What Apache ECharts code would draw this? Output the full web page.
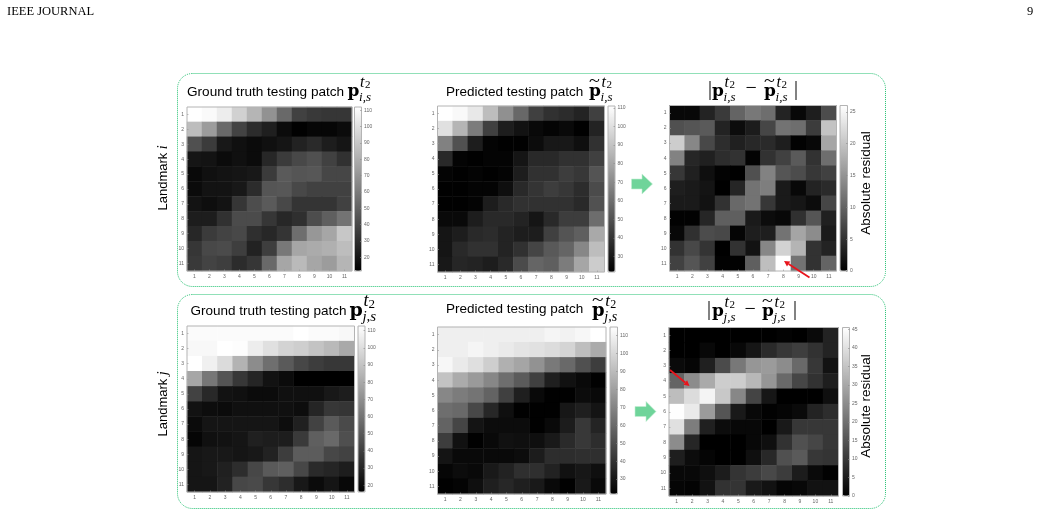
<!DOCTYPE html>
<html>
<head>
<meta charset="utf-8">
<title>Landmark patch prediction residuals</title>
<style>html,body{margin:0;padding:0;background:#fff}#chart{width:1041px;height:515px}</style>
<script src="https://cdn.jsdelivr.net/npm/echarts@6/dist/echarts.min.js"></script>
</head>
<body>
<div id="chart"></div>
<script>
// Patch indices along both axes
const patchTicks = ['1','2','3','4','5','6','7','8','9','10','11'];

// Landmark i: ground truth patch intensities
const truthI = [
[112,110,105,94,83,69,53,37,34,33,33],
[86,73,53,38,29,24,16,12,14,14,16],
[43,35,21,18,16,18,20,25,28,23,20],
[20,19,16,18,16,27,35,40,43,37,31],
[15,18,19,20,21,35,47,45,46,39,39],
[16,19,19,21,29,45,46,40,37,37,37],
[19,17,19,33,42,47,40,32,32,32,37],
[23,23,31,41,41,33,27,30,42,49,57],
[27,35,38,40,30,27,32,55,71,77,90],
[33,40,41,36,25,36,59,77,79,81,86],
[34,38,36,29,33,53,77,85,77,73,83]];

// Landmark i: predicted patch intensities
const predI = [
[111,109,103,88,72,58,44,39,37,34,44],
[100,85,65,44,32,28,25,23,25,22,34],
[67,50,32,23,22,22,26,30,30,27,39],
[36,23,22,23,23,29,36,36,39,39,44],
[23,22,23,22,23,32,39,39,43,41,51],
[22,22,23,23,27,36,40,43,41,37,48],
[22,22,23,32,36,39,39,39,39,36,50],
[25,25,32,36,36,34,29,36,43,43,60],
[29,32,36,37,34,32,32,44,51,55,81],
[29,36,39,39,34,39,46,53,57,69,88],
[30,35,34,32,36,48,57,55,65,80,93]];

// Landmark i: absolute residual
const residualI = [
[.8,.8,3.6,5.9,10.2,12.2,11.2,3.6,.8,3.1,7.7],
[8.2,8.7,9.2,3.6,1.2,2.9,7.1,11.7,11.2,6.1,19.9],
[20.9,13.8,7.3,4.6,3.3,4.1,4.3,3.1,.2,.8,16.8],
[13.3,3.9,3.3,4.6,5.1,.3,5.1,6.6,9.2,5.1,11.2],
[5.6,3.3,1.5,.3,0,8.2,13.3,8.7,7.7,5.6,6.6],
[3.1,2.6,2,0,3.9,11.7,12.8,2.6,.8,3.6,4.3],
[2.6,2.6,1.8,5.1,10.7,11.7,5.6,2.6,2.2,1.2,7.1],
[.2,.2,3.9,9.7,9.7,2.6,1.2,.8,4.9,8.7,3.3],
[.8,4.9,7.7,7.3,.5,3.1,3.1,11.7,16.8,14.3,2.6],
[5.1,7.3,5.3,0,5.1,1.8,13.8,21.4,18.4,5.1,3.6],
[6.6,8.7,6.6,.2,.2,9.7,19.4,26,11.7,5.1,10.2]];

// Landmark j: ground truth patch intensities
const truthJ = [
[111,111,111,111,111,111,111,113,111,111,110],
[110,110,113,112,106,101,96,94,90,86,80],
[113,107,99,84,69,58,50,43,39,37,37],
[79,61,48,37,30,23,20,16,16,16,16],
[41,31,23,22,20,20,22,22,22,25,27],
[23,21,20,22,22,22,22,21,30,37,36],
[20,24,24,24,24,24,21,28,41,50,44],
[18,22,23,24,28,27,27,38,52,56,46],
[24,25,25,24,25,29,39,51,51,43,41],
[24,25,28,33,43,50,52,43,32,30,27],
[24,24,29,43,44,37,33,25,20,24,19]];

// Landmark j: predicted patch intensities
const predJ = [
[109,109,109,109,109,109,109,111,110,112,115],
[109,109,111,109,107,105,104,102,99,91,84],
[112,107,103,97,86,82,75,66,60,51,44],
[93,84,78,71,62,55,45,33,28,25,22],
[71,67,64,58,45,33,25,22,22,26,25],
[62,60,48,36,27,22,22,22,30,33,29],
[58,47,29,26,26,26,22,25,32,42,35],
[44,28,22,25,28,27,27,31,37,42,38],
[29,25,25,25,25,26,32,38,38,39,39],
[24,26,25,31,34,39,39,34,28,30,27],
[22,23,27,33,36,33,31,25,22,31,25]];

// Landmark j: absolute residual
const residualJ = [
[0,0,0,0,0,0,0,.5,0,1.8,6.2],
[0,0,1.4,0,1.4,3.9,7.5,9.8,11,8.9,6.2],
[1.8,.9,5.7,13.4,21.4,26.7,27.6,24.9,18.7,9.8,3.2],
[17.8,24.9,30.3,36.5,36.5,32.9,26.7,18.7,12.5,8.9,5.3],
[33.8,39.2,43.6,35.6,24,12.1,3.9,0,0,0,2.7],
[45.4,41.8,27.6,15.1,4.5,1.4,.4,.9,1.8,6.2,8],
[40,22.3,5.7,2.1,1.4,1.4,0,4.5,9.8,9.8,9.8],
[24.9,6.8,0,0,0,1.4,2.7,8.9,14.2,12.5,9.8],
[5.3,2.1,.9,0,0,2.7,7.1,14.2,16,9.8,9.3],
[1.4,1.4,2.7,5,9.3,10.7,12.8,10.7,5,1.8,.4],
[.9,.5,3.2,8.9,9.3,4.5,3.2,.9,1.4,3.2,3.2]];

// Colour bar tick values
const ticksTruthI = [20,30,40,50,60,70,80,90,100,110];
const ticksPredI = [30,40,50,60,70,80,90,100,110];
const ticksResidualI = [0,5,10,15,20,25];
const ticksTruthJ = [20,30,40,50,60,70,80,90,100,110];
const ticksPredJ = [30,40,50,60,70,80,90,100,110];
const ticksResidualJ = [0,5,10,15,20,25,30,35,40,45];

// One heatmap per entry, with its colour bar placed just to the right
const panels = [
  {values: truthI, ticks: ticksTruthI, min: 11.6, max: 112, x: 187, y: 107, w: 165, h: 164, barX: 354.5, barW: 7},
  {values: predI, ticks: ticksPredI, min: 21.7, max: 111, x: 437.5, y: 106, w: 167, h: 166, barX: 608, barW: 7},
  {values: residualI, ticks: ticksResidualI, min: 0, max: 26, x: 669.5, y: 105.5, w: 167, h: 165.5, barX: 840, barW: 7.5},
  {values: truthJ, ticks: ticksTruthJ, min: 16, max: 112.7, x: 187, y: 326, w: 167.5, h: 166, barX: 358, barW: 7},
  {values: predJ, ticks: ticksPredJ, min: 21.7, max: 114.8, x: 437.5, y: 327, w: 168.5, h: 167, barX: 610, barW: 7.5},
  {values: residualJ, ticks: ticksResidualJ, min: 0, max: 45.5, x: 669, y: 327.5, w: 169.5, h: 168.5, barX: 842.5, barW: 7}
];

const FRAME = '#b4b4b4';
const TICK_TEXT = '#666';
const option = {
  animation: false,
  backgroundColor: '#fff',
  grid: [], xAxis: [], yAxis: [], series: [], visualMap: [], graphic: []
};

panels.forEach((p, i) => {
  const cells = [];
  p.values.forEach((row, r) => row.forEach((v, c) => cells.push([c, r, v])));

  option.grid.push({
    left: p.x, top: p.y, width: p.w, height: p.h, show: true, z: 5,
    backgroundColor: 'transparent', borderColor: FRAME, borderWidth: 1
  });
  option.xAxis.push({
    gridIndex: 2 * i, type: 'category', data: patchTicks, position: 'bottom', z: 6,
    axisLine: {show: false},
    axisTick: {show: true, inside: true, length: 1.5, alignWithLabel: true, lineStyle: {color: '#999', width: .6}},
    axisLabel: {show: true, interval: 0, fontSize: 5, color: TICK_TEXT, margin: 3, fontFamily: 'Liberation Sans'},
    splitLine: {show: false}
  });
  option.yAxis.push({
    gridIndex: 2 * i, type: 'category', data: patchTicks, inverse: true, z: 6,
    axisLine: {show: false},
    axisTick: {show: true, inside: true, length: 1.5, alignWithLabel: true, lineStyle: {color: '#999', width: .6}},
    axisLabel: {show: true, interval: 0, fontSize: 5, color: TICK_TEXT, margin: 3, fontFamily: 'Liberation Sans'},
    splitLine: {show: false}
  });
  option.series.push({
    type: 'heatmap', data: cells, xAxisIndex: 2 * i, yAxisIndex: 2 * i,
    emphasis: {disabled: true}, itemStyle: {borderWidth: 0}
  });

  // Colour bar: the gradient comes from visualMap, the scale from a value axis on top of it
  option.visualMap.push({
    type: 'continuous', seriesIndex: i, min: p.min, max: p.max, calculable: false, hoverLink: false,
    left: p.barX, top: p.y, itemWidth: p.barW, itemHeight: p.h, padding: 0, text: null,
    inRange: {color: ['#000000', '#ffffff']}, borderWidth: 0
  });
  option.grid.push({
    left: p.barX, top: p.y, width: p.barW, height: p.h, show: true, z: 5,
    backgroundColor: 'transparent', borderColor: FRAME, borderWidth: 1
  });
  option.xAxis.push({gridIndex: 2 * i + 1, type: 'category', data: [''], show: false});
  option.yAxis.push({
    gridIndex: 2 * i + 1, type: 'value', position: 'right', min: p.min, max: p.max, z: 6,
    axisLine: {show: false}, splitLine: {show: false},
    axisTick: {show: true, inside: true, length: 1.5, customValues: p.ticks, lineStyle: {color: '#888', width: .6}},
    axisLabel: {show: true, customValues: p.ticks, fontSize: 5, color: TICK_TEXT, margin: 2.5, fontFamily: 'Liberation Sans'}
  });
});

const SANS = '"Liberation Sans"';
const SERIF = '"Liberation Serif"';
const MATH = '"DejaVu Serif"';
const g = option.graphic;
const z = 20;

function label(text, x, y, font, opts) {
  g.push(Object.assign({
    type: 'text', x, y, z, silent: true,
    style: {text, font, fill: '#000', textAlign: 'left', textVerticalAlign: 'middle'}
  }, opts || {}));
}

// Bold patch symbol with stacked superscript and subscript, optionally with a tilde
function patchSymbol(x, y, sub, tilde, size) {
  const s = size || 17;
  label('p', x, y, `bold ${s}px ${MATH}`);
  if (tilde) label('~', x, y - 10, `${s - 1}px ${SERIF}`, {scaleX: 1.25});
  const sx = x + s * 0.68;
  label('t', sx + 1, y - 9.5, `italic ${s - 1}px ${SERIF}`);
  label('2', sx + 6, y - 6.5, `${s - 6}px ${SERIF}`);
  label(sub, sx, y + 6, `italic ${s - 4}px ${SERIF}`);
}

// Rounded dotted frames around each landmark row
[[177.5, 73.5, 708, 213], [177.5, 294.5, 708, 214]].forEach(([x, y, width, height]) => {
  g.push({
    type: 'rect', z: 1, silent: true,
    shape: {x, y, width, height, r: 15},
    style: {fill: 'none', stroke: '#22c070', lineWidth: 1, lineDash: [1, 1]}
  });
});

// Page header
label('IEEE JOURNAL', 7, 12, `12.5px ${SERIF}`);
label('9', 1027, 12, `12.5px ${SERIF}`);

// Panel titles
label('Ground truth testing patch', 187, 92, `13.6px ${SANS}`);
patchSymbol(347.5, 92, 'i,s', false);
label('Predicted testing patch', 446, 92, `13.5px ${SANS}`);
patchSymbol(589, 92, 'i,s', true);
label('|', 708, 90, `20px ${SERIF}`);
patchSymbol(712, 92, 'i,s', false);
label('\u2212', 745.5, 89, `20px ${SERIF}`);
patchSymbol(764, 92, 'i,s', true);
label('|', 794, 90, `20px ${SERIF}`);

label('Ground truth testing patch', 190.5, 311, `13.5px ${SANS}`);
patchSymbol(349.5, 311, 'j,s', false, 19);
label('Predicted testing patch', 446, 309, `13.5px ${SANS}`);
patchSymbol(592, 311, 'j,s', true, 18);
label('|', 707, 310, `20px ${SERIF}`);
patchSymbol(712, 312, 'j,s', false);
label('\u2212', 744.5, 310, `20px ${SERIF}`);
patchSymbol(762, 312, 'j,s', true);
label('|', 793, 310, `20px ${SERIF}`);

// Row and colour bar captions
const RIGHT_ANGLE = Math.PI / 2;
[['i', 178], ['j', 404]].forEach(([name, y]) => {
  g.push({
    type: 'text', x: 163, y, z, rotation: RIGHT_ANGLE, silent: true,
    style: {
      text: `{a|Landmark} {b|${name}}`, textAlign: 'center', textVerticalAlign: 'middle',
      rich: {a: {font: `13px ${SANS}`, fill: '#000'}, b: {font: `italic 14px ${SERIF}`, fill: '#000'}}
    }
  });
});
[183, 406].forEach(y => {
  g.push({
    type: 'text', x: 866.5, y, z, rotation: RIGHT_ANGLE, silent: true,
    style: {text: 'Absolute residual', font: `13.5px ${SANS}`, fill: '#000', textAlign: 'center', textVerticalAlign: 'middle'}
  });
});

// Green block arrows leading from the prediction to the residual
[[631.5, 184, 642, 652.5, 5, 10], [635, 411.5, 646, 656, 5, 10]].forEach(([x0, cy, xh, x1, sh, hh]) => {
  g.push({
    type: 'polygon', z, silent: true,
    shape: {points: [[x0, cy - sh], [xh, cy - sh], [xh, cy - hh], [x1, cy], [xh, cy + hh], [xh, cy + sh], [x0, cy + sh]]},
    style: {fill: '#6fd49a', stroke: '#c4efd4', lineWidth: .6}
  });
});

// Red arrows pointing at the largest residual cells
[[809.5, 277.5, 784, 261, 5.5, 3], [670, 370, 689.5, 386, 5.5, 3]].forEach(([x0, y0, x1, y1, len, wid]) => {
  const ang = Math.atan2(y1 - y0, x1 - x0);
  const ux = Math.cos(ang), uy = Math.sin(ang);
  const bx = x1 - ux * len, by = y1 - uy * len;
  g.push({
    type: 'line', z, silent: true,
    shape: {x1: x0, y1: y0, x2: bx, y2: by},
    style: {stroke: '#e8141c', lineWidth: 1.8}
  });
  g.push({
    type: 'polygon', z, silent: true,
    shape: {points: [[x1, y1], [bx - uy * wid, by + ux * wid], [bx + uy * wid, by - ux * wid]]},
    style: {fill: '#e8141c'}
  });
});

const chart = echarts.init(document.getElementById('chart'), null, {renderer: 'canvas'});
chart.setOption(option);
</script>
</body>
</html>
